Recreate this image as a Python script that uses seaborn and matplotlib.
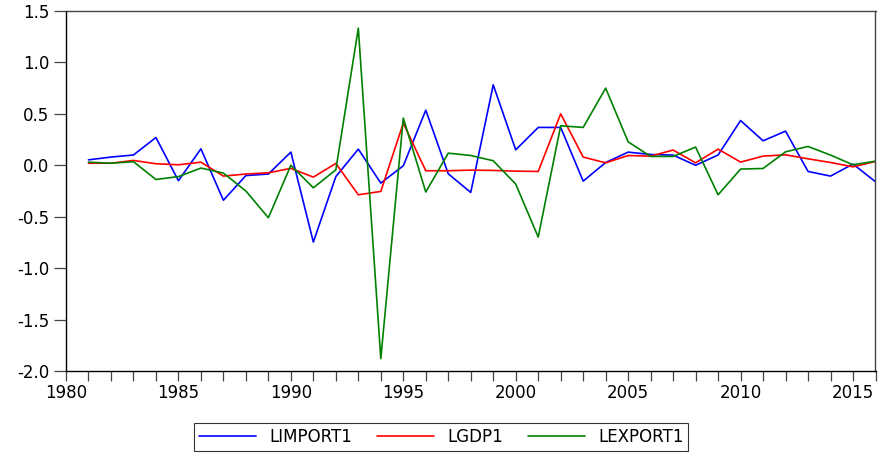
import numpy as np
import pandas as pd
import seaborn as sns
import matplotlib.pyplot as plt
from matplotlib.ticker import MultipleLocator

plt.switch_backend('Agg')

# Data
years = list(range(1981, 2017))
limport1 = [0.053, 0.08, 0.10, 0.27, -0.15, 0.16, -0.34, -0.10, -0.085, 0.128,
            -0.746, -0.11, 0.157, -0.173, -0.005, 0.536, -0.083, -0.264, 0.782, 0.15,
            0.368, 0.368, -0.154, 0.027, 0.128, 0.105, 0.099, 0.0, 0.10, 0.435,
            0.238, 0.332, -0.06, -0.105, 0.012, -0.16]
lgdp1 = [0.02, 0.02, 0.047, 0.015, 0.005, 0.03, -0.105, -0.085, -0.073, -0.03,
         -0.115, 0.018, -0.287, -0.254, 0.41, -0.053, -0.053, -0.047, -0.05, -0.057,
         -0.06, 0.50, 0.08, 0.024, 0.095, 0.089, 0.148, 0.024, 0.157, 0.031,
         0.089, 0.102, 0.063, 0.027, -0.015, 0.037]
lexport1 = [0.03, 0.02, 0.035, -0.138, -0.11, -0.027, -0.076, -0.25, -0.51, 0.0,
            -0.219, -0.044, 1.333, -1.88, 0.459, -0.26, 0.118, 0.095, 0.044, -0.183,
            -0.698, 0.384, 0.368, 0.75, 0.228, 0.086, 0.086, 0.177, -0.287, -0.037,
            -0.031, 0.131, 0.183, 0.099, 0.005, 0.04]

series_names = ['LIMPORT1', 'LGDP1', 'LEXPORT1']
series_colors = ['#0000FF', '#FF0000', '#008000']

df = pd.DataFrame({'year': years, 'LIMPORT1': limport1,
                   'LGDP1': lgdp1, 'LEXPORT1': lexport1})
long_df = df.melt(id_vars='year', var_name='series', value_name='value')

sns.set_style('white')
plt.rcParams['font.family'] = ['DejaVu Sans']
plt.rcParams['text.color'] = 'black'
plt.rcParams['xtick.labelcolor'] = 'black'
plt.rcParams['ytick.labelcolor'] = 'black'

fig = plt.figure(figsize=(8.79, 4.55), dpi=100)
ax = fig.add_axes([66 / 879, 1 - 371 / 455, (875.5 - 66) / 879, (371 - 11) / 455])

sns.lineplot(data=long_df, x='year', y='value', hue='series',
             hue_order=series_names, palette=series_colors,
             linewidth=1.2, ax=ax, legend=False)

ax.set_xlim(1980, 2016)
ax.set_ylim(-2.0, 1.5)
ax.xaxis.set_major_locator(MultipleLocator(5))
ax.xaxis.set_minor_locator(MultipleLocator(1))
ax.yaxis.set_major_locator(MultipleLocator(0.5))
ax.yaxis.set_major_formatter(plt.FormatStrFormatter('%.1f'))
ax.set_xlabel('')
ax.set_ylabel('')

ax.tick_params(axis='both', which='both', direction='out', labelsize=12,
               color='#444444', width=0.9)
ax.tick_params(axis='x', which='both', length=7, pad=2, bottom=True)
ax.tick_params(axis='y', which='major', length=9, pad=3, left=True)

for side in ['left', 'bottom']:
    ax.spines[side].set_color('black')
    ax.spines[side].set_linewidth(1.0)
for side in ['top', 'right']:
    ax.spines[side].set_color('#444444')
    ax.spines[side].set_linewidth(1.0)

handles = [plt.Line2D([], [], color=c, linewidth=1.2) for c in series_colors]
leg = fig.legend(handles, series_names, loc='center', ncol=3,
                 bbox_to_anchor=(0.502, 0.04), frameon=True, fancybox=False,
                 edgecolor='black', fontsize=12, handlelength=3.4,
                 columnspacing=1.5, handletextpad=0.8, borderpad=0.3)
leg.get_frame().set_linewidth(0.8)

fig.savefig('out.png', dpi=100)
